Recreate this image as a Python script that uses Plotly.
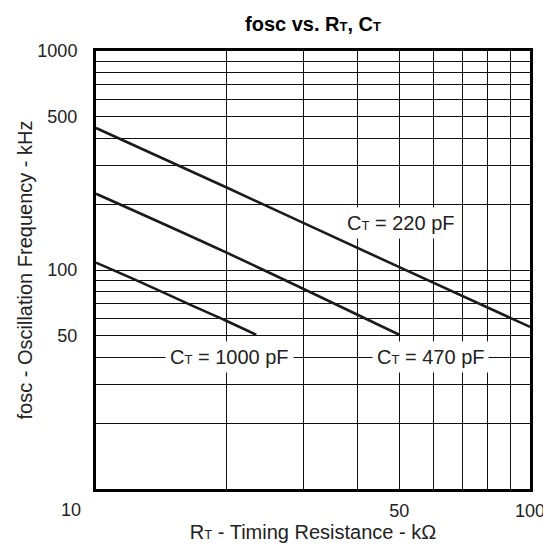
import plotly.graph_objects as go
import math

# ---- data ----
rt_220 = [10, 20, 50, 100]
f_220 = [445, 238, 103, 55]

rt_470 = [10, 20, 50]
f_470 = [223, 120, 50.6]

rt_1000 = [10, 13, 17, 20, 23.4]
f_1000 = [108, 86, 67.5, 58.5, 50.6]

x_grid = [10, 20, 30, 40, 50, 60, 70, 80, 90, 100]
x_labels = {50: "50", 100: "100"}
y_grid = [10, 20, 30, 40, 50, 60, 70, 80, 90, 100, 200, 300, 400, 500, 600, 700, 800, 900, 1000]
y_labels = {50: "50", 100: "100", 500: "500", 1000: "1000"}

FONT = "Liberation Sans, Arial, sans-serif"
SUB = "<span style='font-size:13px'>T</span>"

fig = go.Figure()
for xs, ys in [(rt_220, f_220), (rt_470, f_470), (rt_1000, f_1000)]:
    fig.add_trace(go.Scatter(x=xs, y=ys, mode="lines",
                             line=dict(color="#1a1a1a", width=2.6, shape="spline", smoothing=1.0),
                             showlegend=False, hoverinfo="skip"))

labels = [("C" + SUB + " = 220 pF", 50.4, 164),
          ("C" + SUB + " = 470 pF", 59, 40),
          ("C" + SUB + " = 1000 pF", 20.3, 40)]
for txt, xv, yv in labels:
    fig.add_annotation(x=math.log10(xv), y=math.log10(yv), text=txt, showarrow=False,
                       font=dict(family=FONT, size=20, color="#222"),
                       bgcolor="white", borderpad=4)

# x tick label "10" sits left of the axis corner
fig.add_annotation(x=math.log10(10), y=0, yref="paper", text="10", showarrow=False,
                   xshift=-25, yshift=-21, yanchor="middle",
                   font=dict(family=FONT, size=18, color="#222"))

axis_common = dict(type="log", showgrid=True, gridcolor="#111", gridwidth=1,
                   showline=True, linecolor="black", linewidth=3, mirror=True,
                   ticks="", tickfont=dict(family=FONT, size=18, color="#222"),
                   zeroline=False, automargin=False)

fig.update_layout(
    width=551, height=546,
    margin=dict(l=88, r=29, t=43, b=65),
    paper_bgcolor="white", plot_bgcolor="white",
    title=dict(text="<b>fosc vs. R" + SUB + ", C" + SUB + "</b>",
               x=0.5, xref="paper", y=1 - 16 / 546, yanchor="middle",
               font=dict(family=FONT, size=20, color="black")),
    xaxis=dict(range=[1, 2], tickmode="array", tickvals=x_grid,
               ticktext=[x_labels.get(v, "") for v in x_grid],
               ticklabelstandoff=3,
               title=dict(text="R" + SUB + " - Timing Resistance - kΩ",
                          font=dict(family=FONT, size=20, color="#222"), standoff=4),
               **axis_common),
    yaxis=dict(range=[1, 3], tickmode="array", tickvals=y_grid,
               ticktext=[y_labels.get(v, "") for v in y_grid],
               ticklabelstandoff=12,
               title=dict(text="fosc - Oscillation Frequency - kHz",
                          font=dict(family=FONT, size=20, color="#222"), standoff=0),
               **axis_common),
)

fig.write_html("out.html")
